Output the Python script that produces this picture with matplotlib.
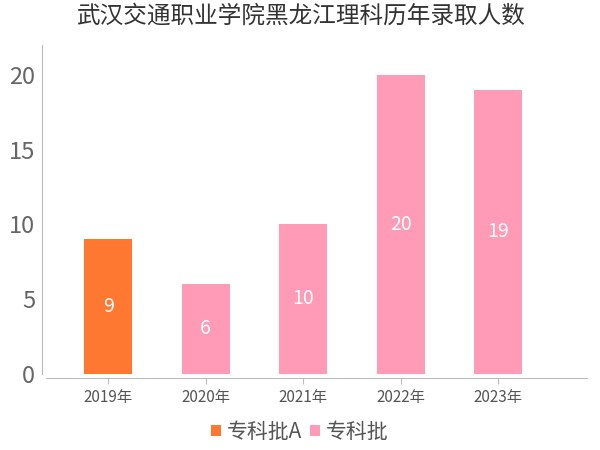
import matplotlib.pyplot as plt
import numpy as np

plt.rcParams['font.family'] = ['Noto Sans CJK SC', 'DejaVu Sans']

years = ['2019年', '2020年', '2021年', '2022年', '2023年']
batch_a = [9, None, None, None, None]     # 专科批A
batch_b = [None, 6, 10, 20, 19]          # 专科批
title = '武汉交通职业学院黑龙江理科历年录取人数'

fig = plt.figure(figsize=(6, 4.5), dpi=100)
ax = fig.add_axes([0.07, 0.16, 0.908, 0.74])

x = np.arange(len(years))
series = [('专科批A', batch_a, '#fe7832'), ('专科批', batch_b, '#ff9bb6')]
for name, vals, color in series:
    idx = [i for i, v in enumerate(vals) if v is not None]
    hv = [vals[i] for i in idx]
    bars = ax.bar(x[idx], hv, width=0.49, color=color, label=name)
    for b, v in zip(bars, hv):
        ax.text(b.get_x() + b.get_width() / 2, v / 2, str(v), color='white',
                ha='center', va='center', fontsize=14)

ax.set_xlim(-0.68, 4.91)
ax.set_ylim(-0.3, 22)
ax.set_yticks([0, 5, 10, 15, 20])
ax.set_xticks(x)
ax.set_xticklabels(years)
ax.tick_params(axis='y', labelsize=17, labelcolor='#666666', length=0, pad=5)
ax.tick_params(axis='x', labelsize=11, labelcolor='#555555', color='#bbbbbb', length=4, pad=4)
for s in ['top', 'right']:
    ax.spines[s].set_visible(False)
ax.spines['left'].set_color('#bbbbbb')
ax.spines['bottom'].set_color('#bbbbbb')
ax.spines['left'].set_bounds(0, 22)
ax.spines['bottom'].set_bounds(-0.64, 4.91)

fig.suptitle(title, fontsize=17, color='#333333', y=0.99)
fig.legend(loc='center', bbox_to_anchor=(0.5, 0.04), ncol=2, frameon=False,
           fontsize=15, handlelength=0.45, handleheight=0.45, handletextpad=0.3,
           columnspacing=0.4, labelcolor='#555555')

fig.savefig('out.png', dpi=100)
